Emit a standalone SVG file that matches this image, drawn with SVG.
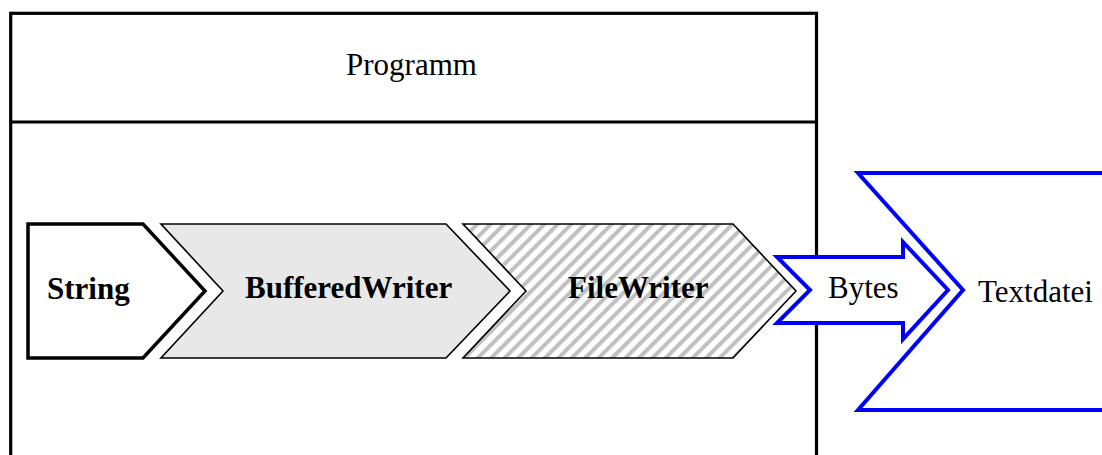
<svg xmlns="http://www.w3.org/2000/svg" width="1102" height="455" viewBox="0 0 1102 455">
  <style>
    text { font-family: "Liberation Serif", "Times New Roman", serif; font-size: 31px; fill: #000; }
    .bold { font-weight: bold; }
    .frame { fill: none; stroke: #000; stroke-width: 3.2; }
    .thick { stroke: #000; stroke-width: 3.5; stroke-linejoin: miter; }
    .thin { stroke: #000; stroke-width: 1.6; stroke-linejoin: miter; }
    .blue { fill: #fff; stroke: #0000ff; stroke-width: 4; stroke-linejoin: miter; }
  </style>
  <defs>
    <pattern id="hatch" patternUnits="userSpaceOnUse" width="9.5" height="9.5" patternTransform="rotate(45)">
      <rect width="9.5" height="9.5" fill="#fff"/>
      <rect x="0" y="0" width="4" height="9.5" fill="#c0c0c0"/>
    </pattern>
  </defs>
  <rect width="1102" height="455" fill="#fff"/>
  <g id="programm">
    <rect class="frame" x="10.7" y="13.3" width="805.8" height="460"/>
    <line x1="10.7" y1="122" x2="816.5" y2="122" stroke="#000" stroke-width="3.2"/>
    <text x="346" y="75">Programm</text>
  </g>
  <g id="string">
    <polygon class="thick" fill="#fff" points="28,224 143,224 205,291 143,358 28,358"/>
    <text class="bold" x="47" y="299">String</text>
  </g>
  <g id="bufferedwriter">
    <polygon class="thin" fill="#e8e8e8" points="161,224 446,224 510,291 446,358 161,358 223,291"/>
    <text class="bold" x="245" y="298">BufferedWriter</text>
  </g>
  <g id="filewriter">
    <polygon class="thin" fill="url(#hatch)" points="463,224 733,224 796,291 733,358 463,358 526,291"/>
    <text class="bold" x="568" y="298">FileWriter</text>
  </g>
  <g id="textdatei">
    <polygon class="blue" points="1110,173 858,173 963,290 858,410 1110,410"/>
    <text x="978" y="302">Textdatei</text>
  </g>
  <g id="bytes">
    <polygon class="blue" points="777,257 903,257 903,242 948,290 903,339 903,323 777,323 810,290"/>
    <text x="828" y="298">Bytes</text>
  </g>
  <g id="connectors"/>
</svg>
